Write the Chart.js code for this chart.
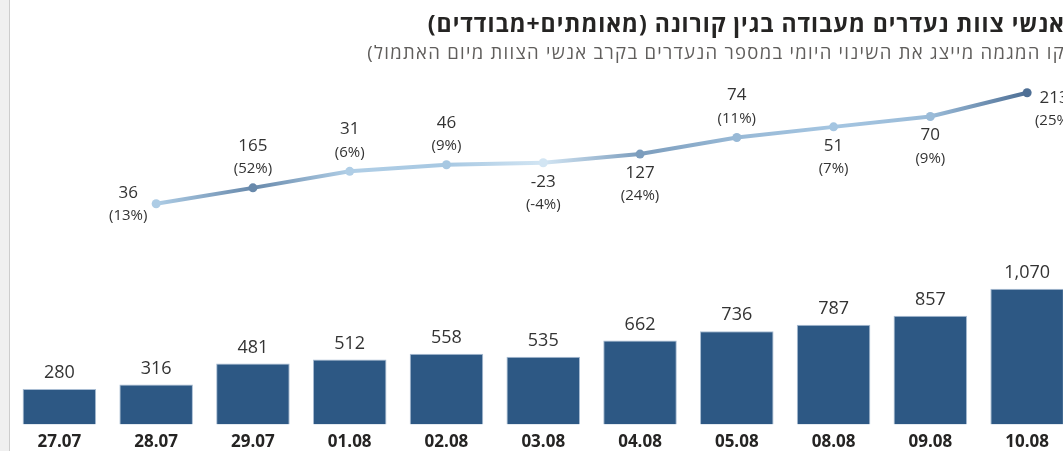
<!DOCTYPE html>
<html lang="he">
<head>
<meta charset="utf-8">
<title>נעדרים מעבודה</title>
<script src="https://cdn.jsdelivr.net/npm/chart.js@4/dist/chart.umd.min.js"></script>
<style>
  html, body { margin: 0; padding: 0; background: #fff; overflow: hidden; }
  body { width: 1063px; height: 451px; position: relative; font-family: 'Segoe UI', 'Open Sans', 'Noto Sans', 'DejaVu Sans', sans-serif; }
  #strip { position: absolute; left: 0; top: 0; width: 9px; height: 451px; background: #f0f0f0; border-right: 1px solid #cdcdcd; }
  #wrap { position: absolute; left: 0; top: 0; width: 1080px; height: 459px; }
  .title { position: absolute; right: -2px; white-space: nowrap; direction: rtl; font-family: 'Open Sans', 'DejaVu Sans', sans-serif; line-height: 1; }
  #t1 { top: 12px; font-size: 23px; font-weight: bold; color: #252423; }
  #t2 { top: 43px; font-size: 18.5px; color: #605e5c; }
</style>
</head>
<body>
<div id="wrap"><canvas id="chartAbsent" width="1080" height="459"></canvas></div>
<div id="strip"></div>
<div class="title" id="t1">אנשי צוות נעדרים מעבודה בגין קורונה (מאומתים+מבודדים)</div>
<div class="title" id="t2">קו המגמה מייצג את השינוי היומי במספר הנעדרים בקרב אנשי הצוות מיום האתמול)</div>
<script>
const FONT = "'Segoe UI', 'Open Sans', 'Noto Sans', sans-serif";

// dados
const dates = ["27.07", "28.07", "29.07", "01.08", "02.08", "03.08", "04.08", "05.08", "08.08", "09.08", "10.08"];
const absentTotal = [280, 316, 481, 512, 558, 535, 662, 736, 787, 857, 1070];
const dailyChange = [null, 36, 165, 31, 46, -23, 127, 74, 51, 70, 213];
const dailyChangePct = [null, 13, 52, 6, 9, -4, 24, 11, 7, 9, 25];
// altura da linha de tendencia (escala 0-100 do eixo escondido)
const trendLevel = [null, 64.1, 68.7, 73.5, 75.4, 76.0, 78.5, 83.3, 86.4, 89.4, 96.3];

// onde fica o rotulo de cada ponto da linha
const labelSide = [null, "left", "top", "top", "top", "bottom", "bottom", "top", "bottom", "bottom", "right"];

// ajusta a largura dos titulos ao original
function ajustarTitulo(id, largura) {
  const el = document.getElementById(id);
  const n = el.textContent.length;
  const extra = (largura - el.getBoundingClientRect().width) / n;
  el.style.letterSpacing = extra.toFixed(2) + "px";
}
ajustarTitulo("t1", 637);
ajustarTitulo("t2", 698);

// escala de cor: claro -> medio -> escuro
const colorStops = [
  [0, [210, 229, 243]],
  [0.3, [166, 199, 226]],
  [1, [78, 111, 149]],
];

function changeColor(v) {
  const vals = dailyChange.filter((x) => x != null);
  const min = Math.min(...vals), max = Math.max(...vals);
  const t = (v - min) / (max - min);
  let a = colorStops[0], b = colorStops[1];
  if (t > colorStops[1][0]) { a = colorStops[1]; b = colorStops[2]; }
  const s = (t - a[0]) / (b[0] - a[0]);
  const c = a[1].map((l, k) => Math.round(l + (b[1][k] - l) * s));
  return `rgb(${c[0]},${c[1]},${c[2]})`;
}

const pointColors = dailyChange.map((v) => (v == null ? "transparent" : changeColor(v)));

const valueLabels = {
  id: "valueLabels",
  afterDatasetsDraw(chart) {
    const ctx = chart.ctx;
    ctx.save();
    ctx.textAlign = "center";
    ctx.textBaseline = "middle";
    ctx.fillStyle = "#333333";

    // rotulos das barras
    ctx.font = "18px " + FONT;
    chart.getDatasetMeta(0).data.forEach((bar, i) => {
      ctx.fillText(absentTotal[i].toLocaleString("en-US"), bar.x, bar.y - 16);
    });

    // rotulos da linha (variacao + percentual)
    chart.getDatasetMeta(1).data.forEach((pt, i) => {
      if (dailyChange[i] == null) return;
      let x = pt.x, yNum, yPct;
      const side = labelSide[i];
      if (side == "top") { yNum = pt.y - 42; yPct = pt.y - 19; }
      else if (side == "bottom") { yNum = pt.y + 19; yPct = pt.y + 42; }
      else if (side == "left") { x = pt.x - 28; yNum = pt.y - 11; yPct = pt.y + 12; }
      else { x = pt.x + 27; yNum = pt.y + 5; yPct = pt.y + 28; }
      ctx.font = "17px " + FONT;
      ctx.fillText(String(dailyChange[i]), x, yNum);
      ctx.font = "15px " + FONT;
      ctx.fillText(`(${dailyChangePct[i]}%)`, x, yPct);
    });
    ctx.restore();
  },
};

const chartAbsent = new Chart(document.getElementById("chartAbsent"), {
  type: "bar",
  data: {
    labels: dates,
    datasets: [
      {
        label: "נעדרים",
        data: absentTotal,
        backgroundColor: "#2d5884",
        borderColor: "#a9bdd3",
        borderWidth: 1,
        categoryPercentage: 0.76,
        barPercentage: 1,
        yAxisID: "y",
        order: 1,
      },
      {
        type: "line",
        label: "שינוי יומי",
        data: trendLevel,
        yAxisID: "y2",
        borderWidth: 4,
        tension: 0,
        pointRadius: 4.5,
        pointBorderWidth: 0,
        pointBackgroundColor: pointColors,
        segment: {
          borderColor: (c) => {
            const g = c.chart.ctx.createLinearGradient(c.p0.x, c.p0.y, c.p1.x, c.p1.y);
            g.addColorStop(0, changeColor(dailyChange[c.p0DataIndex]));
            g.addColorStop(1, changeColor(dailyChange[c.p1DataIndex]));
            return g;
          },
        },
        order: 0,
      },
    ],
  },
  options: {
    responsive: false,
    animation: false,
    layout: { padding: { left: 11, right: 3, top: 80, bottom: 0 } },
    plugins: { legend: { display: false }, tooltip: { enabled: false } },
    scales: {
      x: {
        offset: true,
        grid: { display: false, drawTicks: false },
        border: { display: false },
        ticks: { color: "#252423", padding: 7, font: { family: FONT, size: 17, weight: "bold" } },
      },
      y: { display: false, min: 0, max: 2714 },
      y2: { display: false, min: 0, max: 100 },
    },
  },
  plugins: [valueLabels],
});
</script>
</body>
</html>
